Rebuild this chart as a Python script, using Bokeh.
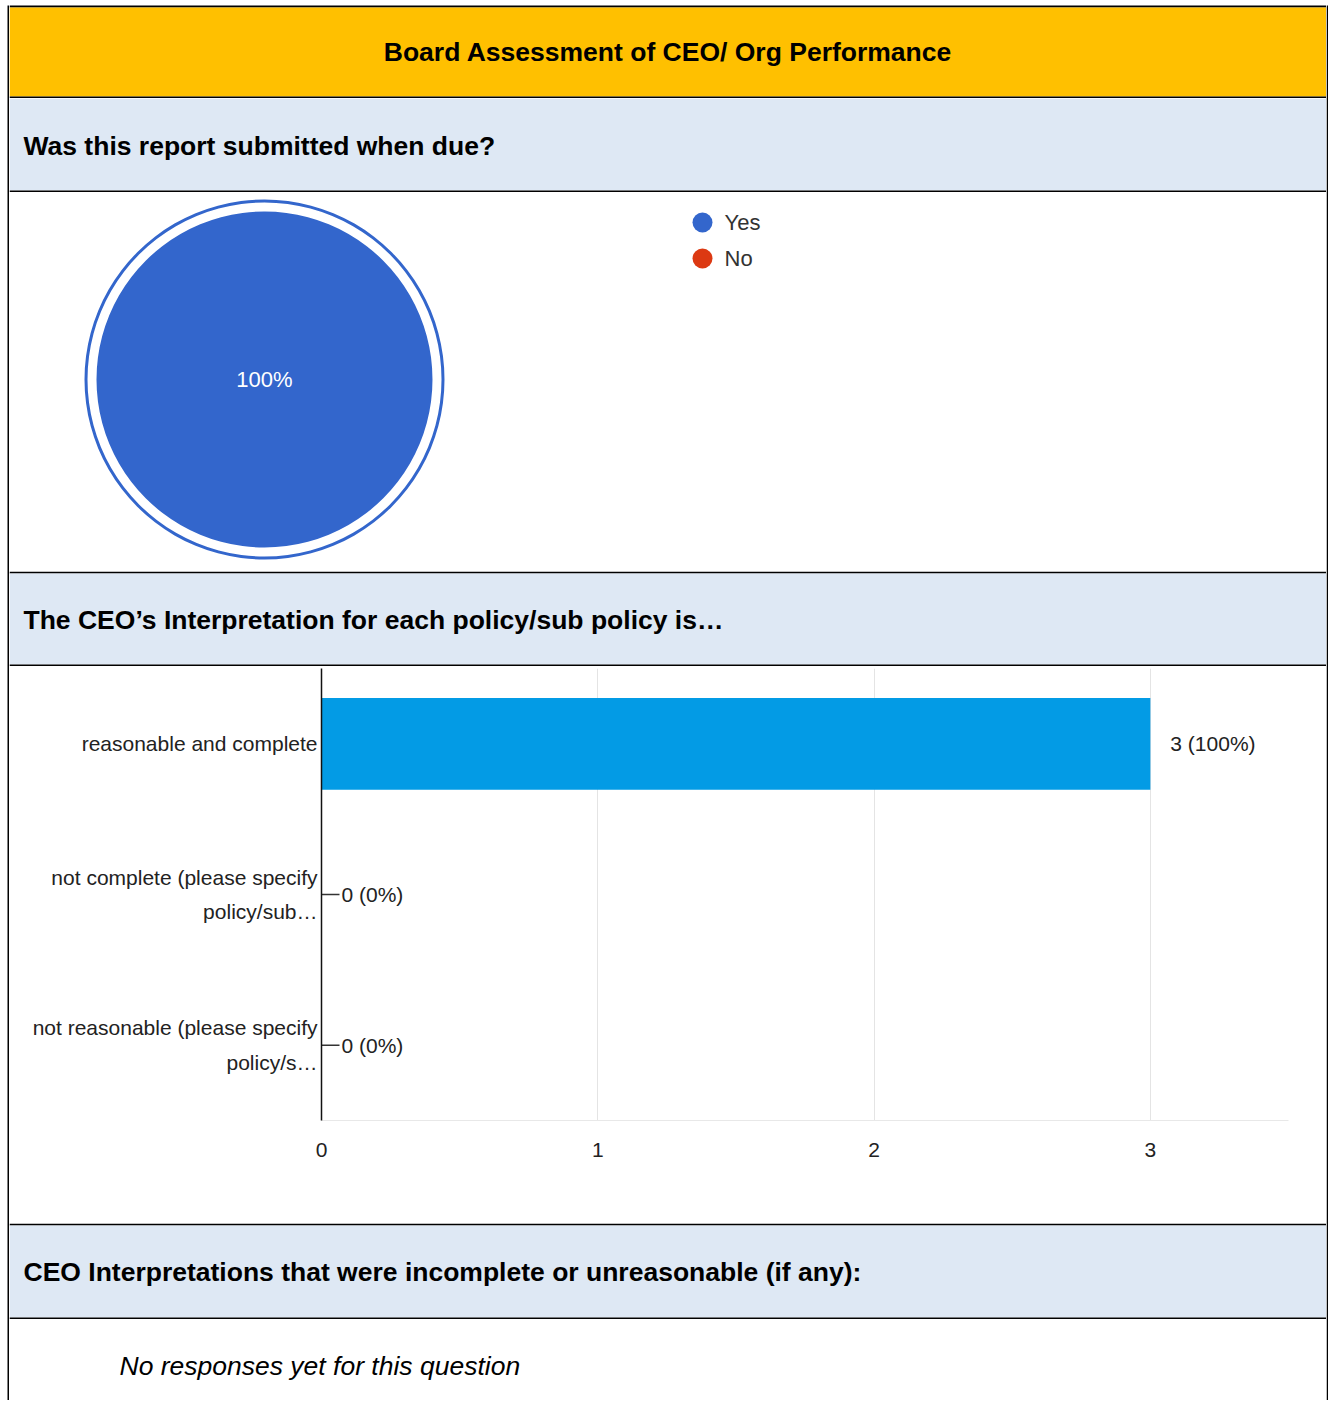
import numpy as np
from bokeh.plotting import figure
from bokeh.layouts import column, row
from bokeh.models import Range1d, FactorRange, FixedTicker
from bokeh.core.properties import value
from bokeh.embed import file_html
from bokeh.resources import INLINE

# ---------------- data ----------------
TITLE = "Board Assessment of CEO/ Org Performance"
Q1 = "Was this report submitted when due?"
Q2 = "The CEO\u2019s Interpretation for each policy/sub policy is\u2026"
Q3 = "CEO Interpretations that were incomplete or unreasonable (if any):"
Q3_ANSWER = "No responses yet for this question"

pie_labels = ["Yes", "No"]
pie_values = [3, 0]
pie_colors = ["#3366CC", "#DC3912"]

bar_categories = [
    "reasonable and complete",
    "not complete (please specify\npolicy/sub\u2026",
    "not reasonable (please specify\npolicy/s\u2026",
]
bar_values = [3, 0, 0]
x_ticks = [0, 1, 2, 3]

# ---------------- styling ----------------
FONT = value("Liberation Sans")
W_IN = 1317
TOTAL_H = 1400
YELLOW = "#FFC000"
BAND = "#DEE8F4"
BLACK = "#000000"


def blank(w, h, bg="#FFFFFF"):
    f = figure(width=w, height=h, x_range=Range1d(0, w), y_range=Range1d(0, h),
               output_backend="svg", toolbar_location=None,
               x_axis_location=None, y_axis_location=None, min_border=0,
               frame_align=False)
    f.grid.visible = False
    f.outline_line_color = None
    f.background_fill_color = bg
    f.border_fill_color = bg
    return f


def strip(f, top, bottom, color, x0=0, x1=None):
    """fill a horizontal strip given as distances from the figure top"""
    h = f.height
    x1 = f.width if x1 is None else x1
    f.quad(left=[x0], right=[x1], top=[h - top], bottom=[h - bottom],
           fill_color=color, line_color=None)


def label(f, text, x, y, align="left", style="bold", size="26.5px"):
    f.text(x=[x], y=[y], text=[text], text_align=align, text_baseline="middle",
           text_font=FONT, text_font_style=style, text_font_size=size,
           text_color="#000000")


# header: white pad, top border, yellow, border
header = blank(W_IN, 98)
strip(header, 5, 7, BLACK)
strip(header, 7, 96, YELLOW)
strip(header, 96, 98, BLACK)
label(header, TITLE, W_IN / 2, 47, align="center")

q1 = blank(W_IN, 94)
strip(q1, 0, 92, BAND)
strip(q1, 92, 94, BLACK)
label(q1, Q1, 14, 47)

q2 = blank(W_IN, 95)
strip(q2, 0, 2, BLACK)
strip(q2, 2, 93, BAND)
strip(q2, 93, 95, BLACK)
label(q2, Q2, 14, 47)

q3 = blank(W_IN, 96)
strip(q3, 0, 2, BLACK)
strip(q3, 2, 94, BAND)
strip(q3, 94, 96, BLACK)
label(q3, Q3, 14, 48)

answer = blank(W_IN, 81)
label(answer, Q3_ANSWER, 110, 35, style="italic")

# ---------------- pie section ----------------
PIE_H = 379
pie = blank(W_IN, PIE_H)
cx, cy = 255, 192
total = float(sum(pie_values))
fracs = np.array(pie_values, dtype=float) / total
cum = np.concatenate([[0.0], np.cumsum(fracs)])
start = np.pi / 2 - 2 * np.pi * cum[:-1]
end = np.pi / 2 - 2 * np.pi * cum[1:] + 1e-4 * (fracs > 0)
keep = fracs > 0
n_keep = int(keep.sum())
src = dict(x=[cx] * n_keep, y=[cy] * n_keep,
           start=list(start[keep]), end=list(end[keep]),
           color=[c for c, k in zip(pie_colors, keep) if k])
pie.wedge(x="x", y="y", radius=168, start_angle="start", end_angle="end",
          direction="clock", fill_color="color", line_color=None, source=src)
pie.annular_wedge(x="x", y="y", inner_radius=177, outer_radius=180,
                  start_angle="start", end_angle="end", direction="clock",
                  fill_color="color", line_color=None, source=src)
pct_text = ["%d%%" % round(f * 100) for f, k in zip(fracs, keep) if k]
pie.text(x=[cx] * len(pct_text), y=[cy] * len(pct_text), text=pct_text,
         text_align="center", text_baseline="middle", text_font=FONT,
         text_font_size="22px", text_color="#FFFFFF")
# legend
lx, ly0, ldy = 693, 349, 36
leg_y = [ly0 - i * ldy for i in range(len(pie_labels))]
pie.scatter(x=[lx] * len(pie_labels), y=leg_y, size=20, marker="circle",
            fill_color=pie_colors, line_color=None)
pie.text(x=[lx + 22] * len(pie_labels), y=leg_y, text=pie_labels,
         text_align="left", text_baseline="middle", text_font=FONT,
         text_font_size="22px", text_color="#333333")

# ---------------- bar section ----------------
bar = figure(width=W_IN, height=557,
             y_range=FactorRange(*list(reversed(bar_categories))),
             x_range=Range1d(0, 3.5),
             output_backend="svg", toolbar_location=None,
             min_border_left=312, min_border_right=38,
             min_border_top=2, min_border_bottom=103, frame_align=False)
bar.outline_line_color = None
bar.background_fill_color = "#FFFFFF"
bar.border_fill_color = "#FFFFFF"
bar.hbar(y=bar_categories, left=0, right=bar_values, height=0.61,
         fill_color="#039BE5", line_color=None)
btotal = float(sum(bar_values))
bar_text = ["%d (%d%%)" % (v, round(v / btotal * 100)) for v in bar_values]
bar.text(x=bar_values, y=bar_categories, text=bar_text, x_offset=20,
         text_align="left", text_baseline="middle", text_font=FONT,
         text_font_size="21px", text_color="#222222")
zero_cats = [c for c, v in zip(bar_categories, bar_values) if v == 0]
zero_vals = [v for v in bar_values if v == 0]
bar.ray(x=zero_vals, y=zero_cats, length=18, length_units="screen", angle=0,
        line_color="#333333", line_width=1.5)

bar.ygrid.visible = False
bar.xgrid.ticker = FixedTicker(ticks=x_ticks)
bar.xgrid.grid_line_color = "#E4E4E4"
bar.xgrid.grid_line_width = 1

bar.xaxis.ticker = FixedTicker(ticks=x_ticks)
bar.xaxis.axis_line_color = "#E8E8E8"
bar.xaxis.major_tick_line_color = None
bar.xaxis.minor_tick_line_color = None
bar.xaxis.major_label_standoff = 16
bar.xaxis.major_label_text_font = "Liberation Sans"
bar.xaxis.major_label_text_font_size = "21px"
bar.xaxis.major_label_text_color = "#222222"

bar.yaxis.axis_line_color = "#111111"
bar.yaxis.axis_line_width = 1.5
bar.yaxis.major_tick_line_color = None
bar.yaxis.minor_tick_line_color = None
bar.yaxis.major_tick_out = 0
bar.yaxis.major_tick_in = 0
bar.yaxis.major_label_standoff = 4
bar.yaxis.major_label_text_font = "Liberation Sans"
bar.yaxis.major_label_text_font_size = "21px"
bar.yaxis.major_label_text_color = "#222222"
bar.yaxis.major_label_text_line_height = 1.5

# ---------------- page frame ----------------
left_side = blank(9, TOTAL_H)
left_side.quad(left=[7], right=[9], top=[TOTAL_H - 5], bottom=[0],
               fill_color=BLACK, line_color=None)
right_side = blank(2, TOTAL_H)
right_side.quad(left=[0], right=[2], top=[TOTAL_H - 5], bottom=[0],
                fill_color=BLACK, line_color=None)

inner = column(header, q1, pie, q2, bar, q3, answer, spacing=0)
page = row(left_side, inner, right_side, spacing=0)

open("out.html", "w").write(file_html(page, INLINE, title="Board Assessment"))
